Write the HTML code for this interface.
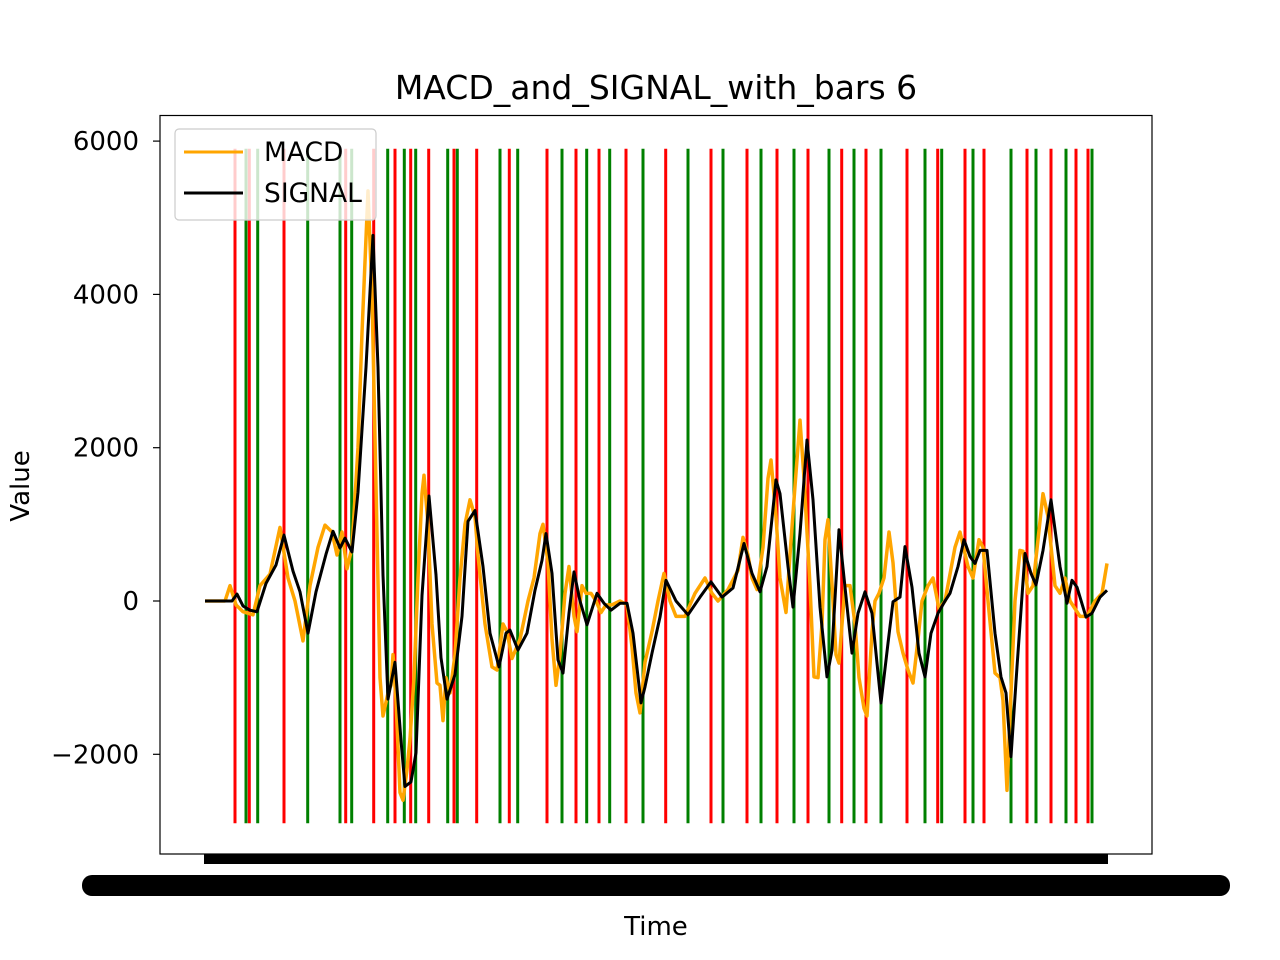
<!DOCTYPE html>
<html><head><meta charset="utf-8"><style>
body{margin:0;background:#fff;}
svg{display:block;font-family:"DejaVu Sans","Liberation Sans",sans-serif;}
</style></head><body>
<svg id="chart" width="1280" height="960" viewBox="0 0 1280 960" xmlns="http://www.w3.org/2000/svg">
<rect width="1280" height="960" fill="#fff"/>
<text x="656" y="99" font-size="33" text-anchor="middle">MACD_and_SIGNAL_with_bars 6</text>
<g id="bars"></g>
<g id="series"></g>
<rect x="160" y="115.5" width="992" height="738.5" fill="none" stroke="#000" stroke-width="1.2"/>
<g id="yaxis"></g>
<rect x="204" y="854" width="904" height="10" fill="#000"/>
<rect x="82" y="875" width="1148" height="21" rx="10" fill="#000"/>
<text x="656" y="935" font-size="26" text-anchor="middle">Time</text>
<text x="0" y="0" font-size="26" text-anchor="middle" transform="translate(29,486) rotate(-90)">Value</text>
<g>
<rect x="175" y="129" width="201" height="91" rx="4" fill="#fff" fill-opacity="0.8" stroke="#ccc" stroke-width="1.2"/>
<line x1="184" y1="152" x2="243" y2="152" stroke="orange" stroke-width="3"/>
<text x="264" y="161" font-size="26.5">MACD</text>
<line x1="184" y1="193" x2="243" y2="193" stroke="#000" stroke-width="3"/>
<text x="264" y="202" font-size="26.5">SIGNAL</text>
</g>
</svg>
<script>
const yTicks=[6000,4000,2000,0,-2000];
const yTickLabels=["6000","4000","2000","0","\u22122000"];
const barTop=5900, barBottom=-2900;
const redTimes=[30,44.3,79,140.7,168.7,190,205.7,223.7,249,271.7,304.3,342,371,394,421,460.7,506,542,572,603,636.7,661,702,732.7,760,779,822,846,871,883];
const greenTimes=[41,52.7,102.7,135,146.7,182.7,199.3,210.7,242.7,252.3,295,312.7,357,381.7,404.7,438,483,518,556,589,624,649,676,720,736.7,768,806,831,861,887];
const sigT=[0,27,32,38,45,52,61,71,79,88,95,103,111,121,128,135,140,147,153,161,168,173,178,183,190,196,200,206,211,217,224,231,236,242,250,257,263,270,278,285,294,301,305,313,322,330,337,341,347,353,358,364,369,375,382,392,399,406,415,422,428,436,440,447,455,461,471,483,495,506,517,528,539,547,555,562,571,575,583,588,595,602,608,615,622,627,634,640,647,653,660,667,676,683,688,695,700,707,714,720,726,733,740,745,753,759,765,770,775,782,790,796,801,806,812,820,826,831,838,846,855,862,867,872,881,887,895,902];
const sigV=[0,0,90,-65,-120,-140,230,470,860,390,120,-420,120,610,910,690,820,640,1420,3050,4770,3050,340,-1280,-800,-1820,-2420,-2360,-1980,70,1370,340,-740,-1280,-960,-200,1040,1180,450,-420,-860,-420,-380,-640,-420,140,530,880,360,-770,-940,-160,380,0,-310,100,-30,-120,-30,-30,-420,-1330,-1120,-680,-210,270,0,-180,50,250,50,170,750,360,120,450,1580,1400,450,-80,880,2100,1320,-80,-990,-640,930,180,-680,-160,120,-160,-1330,-550,-10,50,710,180,-680,-990,-420,-160,0,100,450,800,580,490,660,660,-420,-990,-1200,-2030,-860,620,360,210,660,1320,450,-30,270,180,-210,-160,50,140];
const macdT=[0,20,25,31,38,48,55,65,75,83,90,98,105,113,120,127,132,137,142,147,153,157,163,167,171,175,178,183,186,188,191,195,198,202,205,209,213,217,219,223,227,232,235,238,241,245,250,255,260,265,270,273,280,287,292,298,302,307,315,323,329,335,338,343,347,351,355,360,364,369,372,377,381,386,391,396,401,407,415,422,427,431,435,440,447,453,459,465,471,480,490,500,507,513,523,533,538,543,547,552,558,563,566,571,575,581,585,590,595,599,605,609,613,617,620,623,628,631,634,640,645,650,654,659,662,667,670,674,679,684,688,693,698,703,708,713,717,723,728,734,740,750,755,763,768,774,778,783,790,795,798,802,805,810,815,818,823,828,833,838,843,850,855,860,865,875,882,890,897,902];
const macdV=[0,0,200,-50,-140,-180,200,350,960,300,0,-520,200,700,990,900,600,900,420,700,2000,3500,5350,4000,1500,-1000,-1500,-1200,-1100,-700,-1300,-2500,-2600,-2200,-1800,-1000,300,1400,1640,1000,-300,-1070,-1100,-1560,-1000,-1200,-700,300,1000,1320,1100,600,-300,-860,-900,-300,-400,-750,-500,0,300,880,1000,500,-500,-1100,-700,100,450,-200,-400,200,100,100,0,-150,-50,-50,0,-50,-600,-1200,-1460,-800,-400,0,360,0,-200,-200,100,300,100,0,150,400,830,600,300,150,700,1600,1840,1100,300,-150,600,1500,2360,1600,200,-990,-1000,-300,800,1060,0,-700,-810,200,200,-300,-1000,-1400,-1500,-400,0,100,300,900,500,-400,-680,-900,-1070,-500,0,200,300,-100,0,700,900,450,300,800,700,0,-940,-1000,-1300,-2470,-1500,0,660,650,100,200,800,1400,1100,200,100,300,0,-200,-200,0,100,490];
const X0=205, X1=1107, TMAX=902;
const xs=t=>X0+(t/TMAX)*(X1-X0);
const ys=v=>601-v*(153.3/2000);
const NS="http://www.w3.org/2000/svg";
function mk(tag,attrs,parent){const e=document.createElementNS(NS,tag);for(const k in attrs)e.setAttribute(k,attrs[k]);parent.appendChild(e);return e;}
const bars=document.getElementById('bars');
redTimes.forEach(t=>{const l=mk('line',{x1:xs(t),x2:xs(t),y1:ys(barTop),y2:ys(barBottom),stroke:'#ff0000','stroke-width':3},bars);

});
greenTimes.forEach(t=>{const l=mk('line',{x1:xs(t),x2:xs(t),y1:ys(barTop),y2:ys(barBottom),stroke:'#008000','stroke-width':3},bars);

});
const ser=document.getElementById('series');
const mp=mk('polyline',{points:macdT.map((t,i)=>xs(t)+','+ys(macdV[i])).join(' '),fill:'none',stroke:'orange','stroke-width':3.5,'stroke-linejoin':'round'},ser);


const sp=mk('polyline',{points:sigT.map((t,i)=>xs(t)+','+ys(sigV[i])).join(' '),fill:'none',stroke:'#000','stroke-width':3,'stroke-linejoin':'round'},ser);


const ya=document.getElementById('yaxis');
yTicks.forEach((v,i)=>{const y=ys(v);
const tk=mk('line',{x1:153,x2:160,y1:y,y2:y,stroke:'#000','stroke-width':1.2},ya);


const tx=mk('text',{x:139,y:y+9,'font-size':26,'text-anchor':'end'},ya);
tx.textContent=yTickLabels[i];

});
</script>
</body></html>
